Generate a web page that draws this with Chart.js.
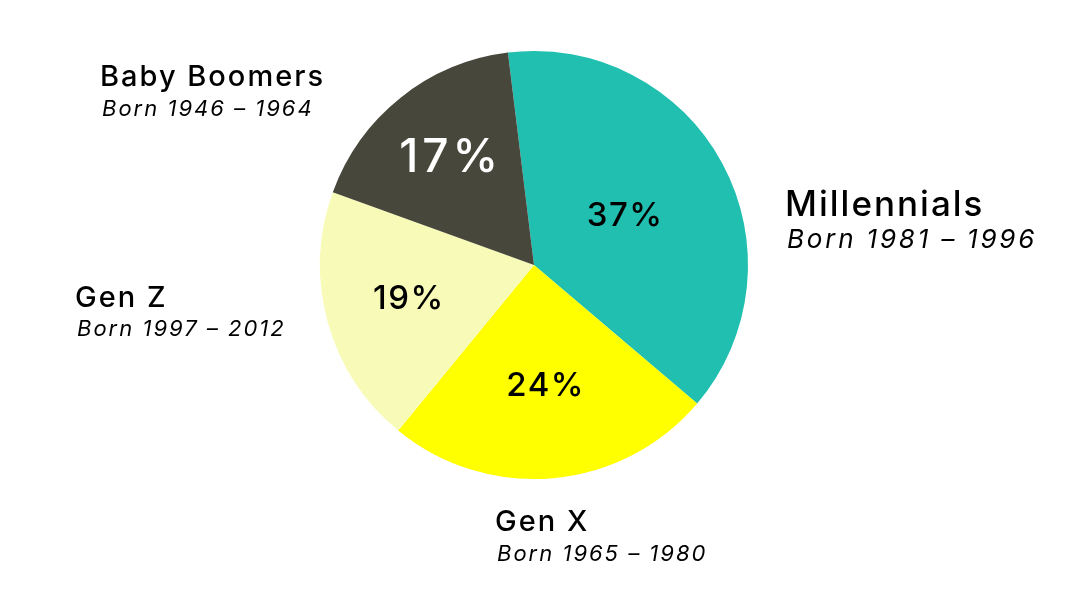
<!DOCTYPE html>
<html>
<head>
<meta charset="utf-8">
<script src="https://cdn.jsdelivr.net/npm/chart.js@4.4.0/dist/chart.umd.min.js"></script>
<style>
  html, body { margin: 0; padding: 0; background: #ffffff; }
  #wrap { width: 1080px; height: 600px; }
</style>
</head>
<body>
<div id="wrap"><canvas id="genChart" width="1080" height="600"></canvas></div>
<script>
// Data
var generations = ['Millennials', 'Gen X', 'Gen Z', 'Baby Boomers'];
var birthYears = ['Born 1981 \u2013 1996', 'Born 1965 \u2013 1980', 'Born 1997 \u2013 2012', 'Born 1946 \u2013 1964'];
var shares = [37, 24, 19, 17];

// Styling
var sliceColors = ['#20bfb0', '#ffff00', '#f8fbb8', '#47473b'];
var pctColors = ['#000000', '#000000', '#000000', '#ffffff'];
var pctSizes = [33, 33, 33, 46];
var pctSpacing = [1.5, 1.5, 1.5, 4];
var pctRadius = [0.48, 0.57, 0.61, 0.64];   // fraction of radius for the % label
var titleSizes = [35, 29, 29, 29];
var titleSpacing = [2, 2, 2, 2];
var bornSizes = [26, 22, 22, 22];
var bornSpacing = [2.8, 2, 2, 2];
// outer label placement relative to pie centre: [dx, title dy, born dy]
var labelOffsets = [[251, -49, -17], [-39, 266, 296], [-459, 42, 71], [-434, -179, -149]];

var FONT = 'Inter, "Liberation Sans", Arial, sans-serif';

// Draw the percentages and the generation labels
var labelPlugin = {
    id: 'genLabels',
    afterDatasetsDraw: function(chart) {
        var ctx = chart.ctx;
        var meta = chart.getDatasetMeta(0);
        ctx.save();
        meta.data.forEach(function(arc, i) {
            var mid = (arc.startAngle + arc.endAngle) / 2;
            var r = arc.outerRadius * pctRadius[i];
            ctx.fillStyle = pctColors[i];
            ctx.font = '500 ' + pctSizes[i] + 'px ' + FONT;
            ctx.letterSpacing = pctSpacing[i] + 'px';
            ctx.textAlign = 'center';
            ctx.textBaseline = 'middle';
            ctx.fillText(shares[i] + '%', arc.x + Math.cos(mid) * r + pctSpacing[i] / 2, arc.y + Math.sin(mid) * r);

            var off = labelOffsets[i];
            ctx.fillStyle = '#000000';
            ctx.textAlign = 'left';
            ctx.textBaseline = 'alphabetic';
            ctx.font = '500 ' + titleSizes[i] + 'px ' + FONT;
            ctx.letterSpacing = titleSpacing[i] + 'px';
            ctx.fillText(generations[i], arc.x + off[0], arc.y + off[1]);
            ctx.font = 'italic ' + bornSizes[i] + 'px ' + FONT;
            ctx.letterSpacing = bornSpacing[i] + 'px';
            ctx.fillText(birthYears[i], arc.x + off[0] + 2, arc.y + off[2]);
        });
        ctx.restore();
    }
};

var ctx = document.getElementById('genChart').getContext('2d');

var myChart = new Chart(ctx, {
    type: 'pie',
    data: {
        labels: generations,
        datasets: [{
            data: shares,
            backgroundColor: sliceColors,
            borderWidth: 0
        }]
    },
    options: {
        responsive: false,
        animation: false,
        rotation: -7,
        layout: {
            padding: { left: 320, right: 332, top: 51, bottom: 121 }
        },
        plugins: {
            legend: { display: false },
            tooltip: { enabled: false }
        }
    },
    plugins: [labelPlugin]
});
</script>
</body>
</html>
